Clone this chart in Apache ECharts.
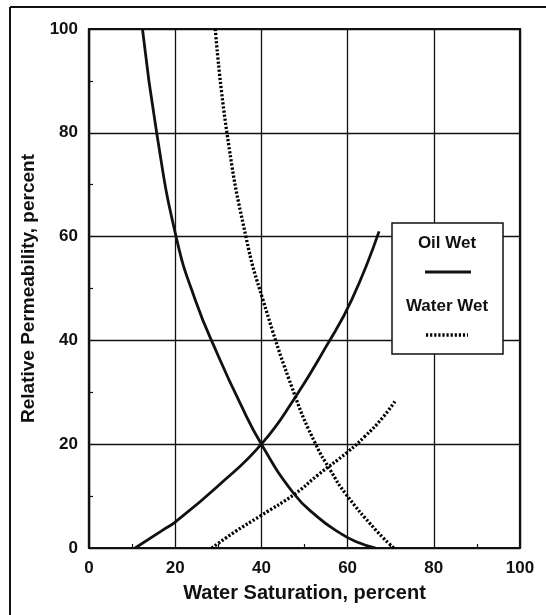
<!DOCTYPE html>
<html>
<head>
<meta charset="utf-8">
<script src="https://cdn.jsdelivr.net/npm/echarts@6/dist/echarts.min.js"></script>
<style>
  html, body { margin: 0; padding: 0; background: #fff; }
  #chart { width: 546px; height: 615px; }
</style>
</head>
<body>
<div id="chart"></div>
<script>
// 数据：含水饱和度 (%) 与相对渗透率 (%)
const oilWetOil = [[12.4, 100], [15.7, 80], [20.2, 60], [24.7, 47.7], [30, 37], [35, 28], [40, 20], [47.5, 10.5], [53, 6], [58, 3], [62, 1.2], [66.5, 0]];
const oilWetWater = [[10.7, 0], [17.2, 3.5], [20, 5], [30, 12], [40, 20], [47.9, 29.1], [55, 38.8], [61, 47.9], [67.3, 61]];
const waterWetOil = [[29.3, 100], [32, 80], [36.4, 60], [40.4, 47.7], [47.9, 29.1], [52.6, 20], [56, 15], [59.5, 10.5], [66.5, 3.5], [70.7, 0]];
const waterWetWater = [[28.5, 0], [34, 3.2], [39.8, 6.2], [47.9, 10.5], [53, 14], [60, 18.5], [64, 21.5], [68, 25], [71.2, 28.5]];

const legendNames = ['Oil Wet', 'Water Wet'];
const xTitle = 'Water Saturation, percent';
const yTitle = 'Relative Permeability, percent';

const chart = echarts.init(document.getElementById('chart'));

const labelStyle = { color: '#111', fontFamily: 'Liberation Sans', fontWeight: 'bold', fontSize: 17 };
const titleStyle = { color: '#111', fontFamily: 'Liberation Sans', fontWeight: 'bold', fontSize: 19 };

const solid = { color: '#111', width: 2.8, type: 'solid' };
const dotted = { color: '#000', width: 3.3, type: [2.2, 1.9], cap: 'butt' };

function curve(name, data, lineStyle) {
  return {
    name: name,
    type: 'line',
    data: data,
    smooth: 0.5,
    showSymbol: false,
    lineStyle: lineStyle,
    z: 3
  };
}

function valueAxis(extra) {
  return Object.assign({
    type: 'value',
    min: 0,
    max: 100,
    interval: 20,
    axisLine: { show: true, onZero: false, lineStyle: { color: '#111', width: 2.2 } },
    axisTick: { show: false, inside: true },
    minorTick: { show: true, splitNumber: 2, length: 4, lineStyle: { color: '#111', width: 1.2 } },
    splitLine: { show: true, lineStyle: { color: '#111', width: 1.3 } },
    nameLocation: 'middle',
    nameTextStyle: titleStyle
  }, extra);
}

chart.setOption({
  animation: false,
  backgroundColor: '#fff',
  grid: {
    left: 89, right: 26, top: 29, bottom: 67,
    show: true, borderColor: '#111', borderWidth: 2.2
  },
  xAxis: valueAxis({
    name: xTitle,
    nameGap: 35,
    nameTextStyle: Object.assign({}, titleStyle, { fontSize: 20 }),
    axisLabel: Object.assign({ margin: 12 }, labelStyle)
  }),
  yAxis: valueAxis({
    name: yTitle,
    nameGap: 51,
    axisLabel: Object.assign({ margin: 11 }, labelStyle)
  }),
  series: [
    curve(legendNames[0], oilWetOil, solid),
    curve(legendNames[0], oilWetWater, solid),
    curve(legendNames[1], waterWetOil, dotted),
    curve(legendNames[1], waterWetWater, dotted)
  ],
  graphic: [
    // 外框（左、上）
    { type: 'line', shape: { x1: 10, y1: 7, x2: 10, y2: 615 }, style: { stroke: '#111', lineWidth: 2 } },
    { type: 'line', shape: { x1: 10, y1: 7, x2: 546, y2: 7 }, style: { stroke: '#111', lineWidth: 2 } },
    // 图例框
    { type: 'rect', shape: { x: 392, y: 223, width: 111, height: 131 }, style: { fill: '#fff', stroke: '#111', lineWidth: 1.5 }, z: 10 },
    { type: 'text', x: 447, y: 243, style: { text: legendNames[0], fill: '#111', font: 'bold 17px "Liberation Sans"', align: 'center', verticalAlign: 'middle' }, z: 11 },
    { type: 'line', shape: { x1: 425, y1: 272, x2: 471, y2: 272 }, style: { stroke: '#111', lineWidth: 2.8 }, z: 11 },
    { type: 'text', x: 447, y: 306, style: { text: legendNames[1], fill: '#111', font: 'bold 17px "Liberation Sans"', align: 'center', verticalAlign: 'middle' }, z: 11 },
    { type: 'line', shape: { x1: 426, y1: 335, x2: 468, y2: 335 }, style: { stroke: '#000', lineWidth: 3.3, lineDash: [2.2, 1.9] }, z: 11 }
  ]
});

window.addEventListener('resize', () => chart.resize());
</script>
</body>
</html>
